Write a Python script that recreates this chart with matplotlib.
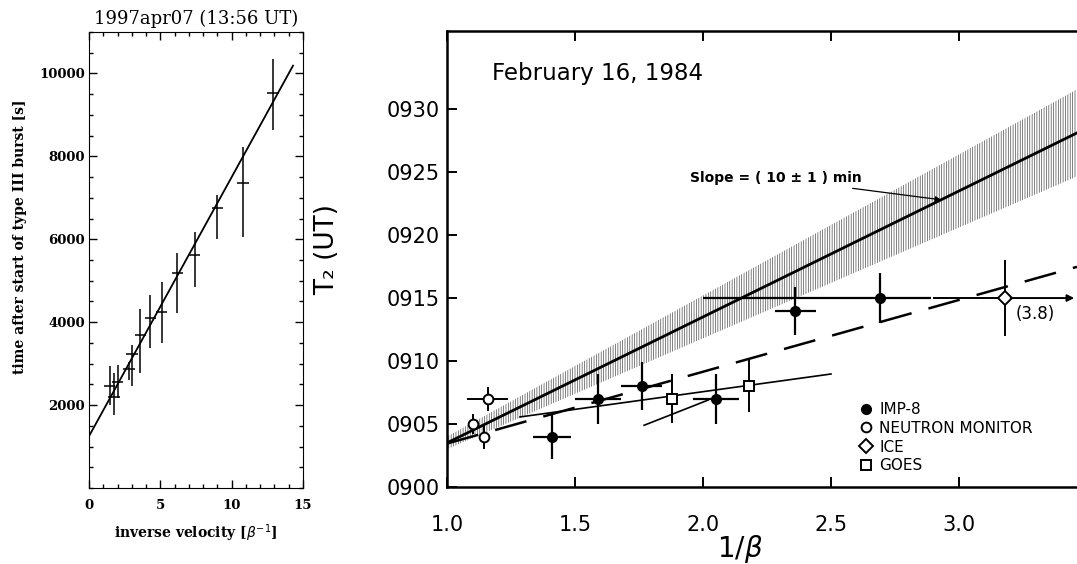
import numpy as np
import matplotlib.pyplot as plt
from matplotlib.ticker import MultipleLocator, FixedLocator
from matplotlib.lines import Line2D

# left panel: 1997apr07 type III burst
inv_vel = [1.45, 1.75, 2.0, 2.8, 3.0, 3.6, 4.3, 5.1, 6.2, 7.4, 9.0, 10.8, 12.9]
t_burst = [2460, 2190, 2550, 2870, 3230, 3690, 4100, 4240, 5180, 5610, 6750, 7350, 9540]
t_top = [2940, 2770, 2960, 3040, 3450, 4310, 4650, 4960, 5660, 6170, 7060, 8220, 10360]
t_bot = [2000, 1760, 2170, 2600, 2460, 2770, 3370, 3500, 4220, 4840, 6000, 6050, 8630]
vel_err = 0.4
fit_b, fit_m, fit_xmax = 1250, 625, 14.3

# right panel: February 16, 1984 (minutes after 0900)
imp_x = [1.41, 1.59, 1.76, 2.05, 2.36, 2.69]
imp_y = [4.0, 7.0, 8.0, 7.0, 14.0, 15.0]
imp_yerr = [1.8, 2.0, 1.9, 2.0, 1.9, 2.0]
imp_xlo = [0.075, 0.09, 0.08, 0.09, 0.08, 0.69]
imp_xhi = [0.075, 0.09, 0.08, 0.09, 0.08, 0.2]

nm_x = [1.10, 1.145, 1.16]
nm_y = [5.0, 4.0, 7.0]
nm_yerr = [0.8, 1.0, 0.95]
nm_xerr = [0.0, 0.0, 0.08]

ice_x, ice_y, ice_yerr, ice_xlo, ice_xend = 3.18, 15.0, 3.0, 0.28, 3.45

goes_x = [1.88, 2.18]
goes_y = [7.0, 8.0]
goes_yerr = [1.95, 2.05]

slope, slope_err, y_at1 = 10.0, 1.0, 3.5
dash_y1, dash_slope = 3.45, 5.7
thin_x = [1.285, 2.5]
thin_y = [5.56, 8.97]
short_x = [1.77, 2.02]
short_y = [4.9, 6.9]

plt.rcParams['hatch.linewidth'] = 0.5

fig = plt.figure(figsize=(10.77, 5.64), dpi=100)

# ---- left panel
ax1 = fig.add_axes([89 / 1077, 76 / 564, 214 / 1077, 456 / 564])
lo = np.array(t_burst) - np.array(t_bot)
hi = np.array(t_top) - np.array(t_burst)
ax1.errorbar(inv_vel, t_burst, yerr=[lo, hi], xerr=vel_err, fmt='none',
             ecolor='black', elinewidth=1.1)
xf = np.array([0, fit_xmax])
ax1.plot(xf, fit_b + fit_m * xf, color='black', lw=1.3)
ax1.set_xlim(0, 15)
ax1.set_ylim(0, 11000)
ax1.set_xticks([0, 5, 10, 15])
ax1.xaxis.set_minor_locator(MultipleLocator(1))
ax1.set_yticks([2000, 4000, 6000, 8000, 10000])
ax1.yaxis.set_minor_locator(MultipleLocator(500))
ax1.tick_params(which='both', direction='in', top=True, right=True, width=1)
ax1.tick_params(which='major', length=6)
ax1.tick_params(which='minor', length=3)
ax1.tick_params(axis='x', pad=8)
ax1.tick_params(axis='y', pad=3)
for lab in ax1.get_xticklabels() + ax1.get_yticklabels():
    lab.set_family('DejaVu Serif')
    lab.set_fontsize(9.5)
    lab.set_weight('bold')
ax1.set_title('1997apr07 (13:56 UT)', family='DejaVu Serif', fontsize=13, pad=6)
ax1.set_xlabel(r'inverse velocity [$\beta^{-1}$]', family='DejaVu Serif',
               fontsize=10, weight='bold')
ax1.xaxis.set_label_coords(0.5, -0.075)
ax1.set_ylabel('time after start of type III burst [s]', family='DejaVu Serif',
               fontsize=10, weight='bold')
ax1.yaxis.set_label_coords(-0.29, 0.55)

# ---- right panel
ax2 = fig.add_axes([447 / 1077, 77 / 564, 630 / 1077, 456 / 564])
xs = np.array([1.0, 3.461])
ax2.fill_between(xs, y_at1 + 0.5 + (slope + 1.2 * slope_err) * (xs - 1),
                 y_at1 - 0.5 + (slope - 1.2 * slope_err) * (xs - 1),
                 facecolor='none', edgecolor='0.3', linewidth=0,
                 hatch='|||||||')
ax2.plot(xs, y_at1 + slope * (xs - 1), color='black', lw=2)
ax2.plot(xs, dash_y1 + dash_slope * (xs - 1), color='black', lw=1.8,
         linestyle=(0, (13, 7)))
ax2.plot(thin_x, thin_y, color='black', lw=1.2)
ax2.plot(short_x, short_y, color='black', lw=1.2)

ax2.errorbar(imp_x, imp_y, yerr=imp_yerr, xerr=[imp_xlo, imp_xhi], fmt='o',
             ms=7, color='black', ecolor='black', elinewidth=1.6)
ax2.errorbar(nm_x, nm_y, yerr=nm_yerr, xerr=nm_xerr, fmt='o', ms=7,
             mfc='white', mec='black', mew=1.4, ecolor='black', elinewidth=1.4)
ax2.errorbar(goes_x, goes_y, yerr=goes_yerr, fmt='s', ms=7,
             mfc='white', mec='black', mew=1.4, ecolor='black', elinewidth=1.4)
ax2.errorbar([ice_x], [ice_y], yerr=ice_yerr, xerr=[[ice_xlo], [0]], fmt='D',
             ms=7, mfc='white', mec='black', mew=1.4, ecolor='black',
             elinewidth=1.4)
ax2.annotate('', xy=(ice_xend, ice_y), xytext=(ice_x, ice_y),
             arrowprops=dict(arrowstyle='-|>', color='black', lw=1.4,
                             mutation_scale=10, shrinkA=4, shrinkB=0))
ax2.text(ice_x + 0.04, ice_y - 1.3, '(3.8)', fontsize=12, va='center')

ax2.annotate('Slope = ( 10 ± 1 ) min', xy=(2.93, y_at1 + slope * 1.93),
             xytext=(2.62, 24.5), ha='right', va='center', fontsize=10,
             weight='bold',
             arrowprops=dict(arrowstyle='-|>', color='black', lw=0.9,
                             mutation_scale=8, shrinkA=1, shrinkB=0))
ax2.text(1.176, 32.8, 'February 16, 1984', fontsize=16.5, va='center')

handles = [
    Line2D([], [], marker='o', ls='none', color='black', ms=7),
    Line2D([], [], marker='o', ls='none', mfc='white', mec='black', mew=1.4, ms=7),
    Line2D([], [], marker='D', ls='none', mfc='white', mec='black', mew=1.4, ms=7),
    Line2D([], [], marker='s', ls='none', mfc='white', mec='black', mew=1.4, ms=7),
]
ax2.legend(handles, ['IMP-8', 'NEUTRON MONITOR', 'ICE', 'GOES'],
           loc='upper left', bbox_to_anchor=(0.645, 0.2), frameon=False,
           fontsize=11, handlelength=0.8, handletextpad=0.5,
           labelspacing=0.25, borderaxespad=0)

ax2.set_xlim(1.0, 3.461)
ax2.set_ylim(0, 36.2)
ax2.set_xticks([1.0, 1.5, 2.0, 2.5, 3.0])
ax2.set_xticklabels(['1.0', '1.5', '2.0', '2.5', '3.0'])
yt = [0, 5, 10, 15, 20, 25, 30]
ax2.yaxis.set_major_locator(FixedLocator(yt))
ax2.set_yticklabels([f'09{m:02d}' for m in yt])
ax2.spines['right'].set_visible(False)
for sp in ax2.spines.values():
    sp.set_linewidth(1.8)
ax2.tick_params(direction='in', top=True, length=7, width=1.4, labelsize=15)
ax2.tick_params(axis='x', pad=20)
ax2.tick_params(axis='y', pad=5)
ax2.set_xlabel(r'1/$\beta$', fontsize=20)
ax2.xaxis.set_label_coords(0.465, -0.1)
ax2.set_ylabel('T₂ (UT)', fontsize=19)
ax2.yaxis.set_label_coords(-0.17, 0.52)

fig.savefig('out.png', dpi=100)
